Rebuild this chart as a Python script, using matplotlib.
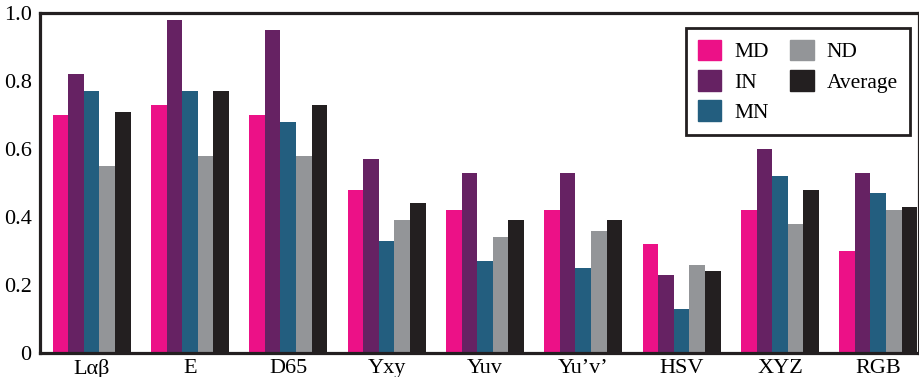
import numpy as np
import matplotlib.pyplot as plt
from matplotlib.patches import Patch

# colour spaces and the five series
spaces = ['L\u03b1\u03b2', 'E', 'D65', 'Yxy', 'Yuv', 'Yu\u2019v\u2019', 'HSV', 'XYZ', 'RGB']
md = [0.70, 0.73, 0.70, 0.48, 0.42, 0.42, 0.32, 0.42, 0.30]
inn = [0.82, 0.98, 0.95, 0.57, 0.53, 0.53, 0.23, 0.60, 0.53]
mn = [0.77, 0.77, 0.68, 0.33, 0.27, 0.25, 0.13, 0.52, 0.47]
nd = [0.55, 0.58, 0.58, 0.39, 0.34, 0.36, 0.26, 0.38, 0.42]
avg = [0.71, 0.77, 0.73, 0.44, 0.39, 0.39, 0.24, 0.48, 0.43]

series = [('MD', md, '#ec1187'), ('IN', inn, '#662263'), ('MN', mn, '#235e7f'),
          ('ND', nd, '#939598'), ('Average', avg, '#231f20')]

plt.rcParams['font.family'] = ['Liberation Serif', 'DejaVu Serif']

fig = plt.figure(figsize=(9.2, 3.77), dpi=100)
ax = fig.add_axes([0.0435, 0.0637, 0.955, 0.902])

x = np.arange(len(spaces))
w = 0.159
for k, (name, vals, col) in enumerate(series):
    ax.bar(x + (k - 2) * w, vals, width=w, color=col, label=name)

ax.set_xlim(-0.525, 8.41)
ax.set_ylim(0, 1.0)
ax.set_yticks([0, 0.2, 0.4, 0.6, 0.8, 1.0])
ax.set_yticklabels(['0', '0.2', '0.4', '0.6', '0.8', '1.0'])
ax.set_xticks(x)
ax.set_xticklabels(spaces)
ax.tick_params(length=0, labelsize=16, pad=4)
ax.tick_params(axis='y', pad=6)
for s in ax.spines.values():
    s.set_linewidth(2.3)
    s.set_color('#231f20')

handles = [Patch(color=c, label=n) for n, v, c in series]
leg = ax.legend(handles=handles, ncol=2, loc='upper right', bbox_to_anchor=(0.99, 0.956),
                borderaxespad=0, fontsize=15.5, handlelength=1.1, handleheight=1.1,
                fancybox=False, framealpha=1, columnspacing=1.0, handletextpad=0.6,
                labelspacing=0.35, borderpad=0.55)
leg.get_frame().set_edgecolor('#231f20')
leg.get_frame().set_linewidth(2.0)

plt.savefig('out.png', dpi=100)
